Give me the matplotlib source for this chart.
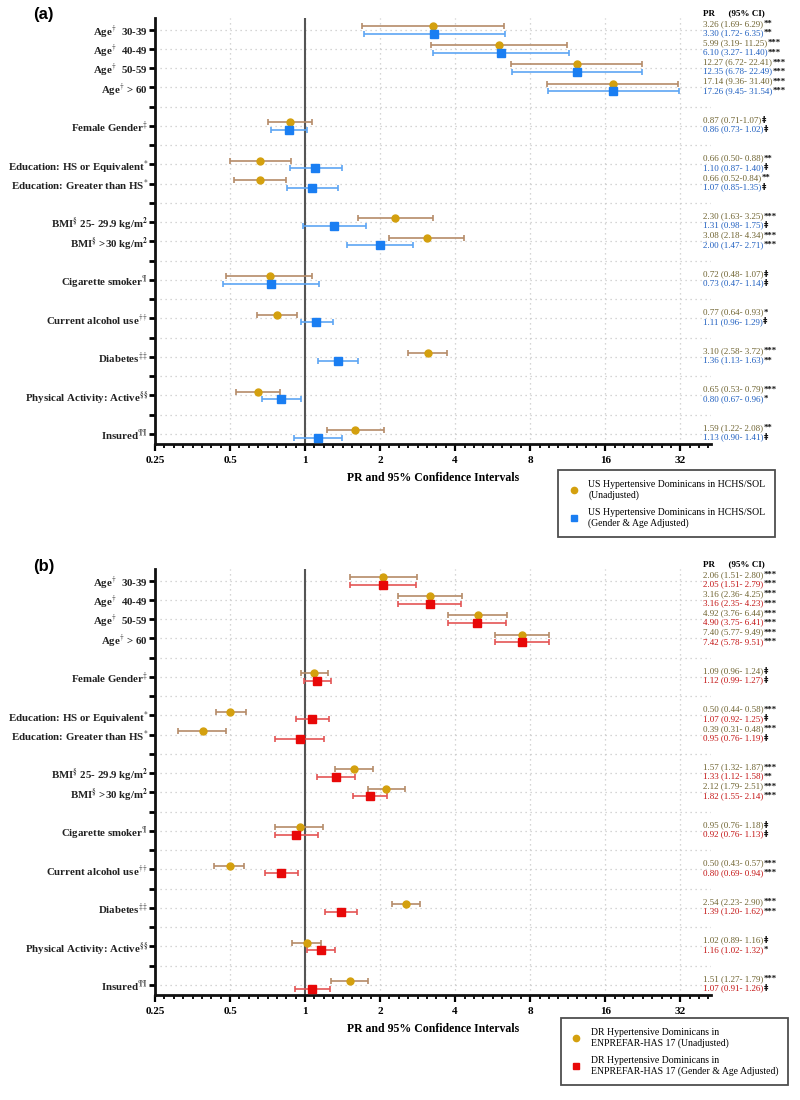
import numpy as np
import matplotlib
matplotlib.use("Agg")
import matplotlib.pyplot as plt
from matplotlib.lines import Line2D
from matplotlib.ticker import FixedLocator, FixedFormatter, NullFormatter

plt.rcParams['font.family'] = ['Liberation Serif', 'DejaVu Serif']
plt.rcParams['mathtext.fontset'] = 'stix'

# row labels (blank strings are the spacer rows)
row_labels = [r"Age$^{\dagger}$  30-39", r"Age$^{\dagger}$  40-49", r"Age$^{\dagger}$  50-59",
              r"Age$^{\dagger}$ > 60", "", r"Female Gender$^{\ddagger}$", "",
              r"Education: HS or Equivalent$^{*}$", r"Education: Greater than HS$^{*}$", "",
              r"BMI$^{\S}$ 25- 29.9 kg/m$^{\mathbf{2}}$", r"BMI$^{\S}$ >30 kg/m$^{\mathbf{2}}$", "",
              r"Cigarette smoker$^{\P}$", "", r"Current alcohol use$^{\dagger\dagger}$", "",
              r"Diabetes$^{\ddagger\ddagger}$", "", r"Physical Activity: Active$^{\S\S}$", "",
              r"Insured$^{\P\P}$"]
item_rows = [0, 1, 2, 3, 5, 7, 8, 10, 11, 13, 15, 17, 19, 21]

# (a) US Hypertensive Dominicans in HCHS/SOL
a_unadj_pr = [3.26, 5.99, 12.27, 17.14, 0.87, 0.66, 0.66, 2.30, 3.08, 0.72, 0.77, 3.10, 0.65, 1.59]
a_unadj_lo = [1.69, 3.19, 6.72, 9.36, 0.71, 0.50, 0.52, 1.63, 2.18, 0.48, 0.64, 2.58, 0.53, 1.22]
a_unadj_hi = [6.29, 11.25, 22.41, 31.40, 1.07, 0.88, 0.84, 3.25, 4.34, 1.07, 0.93, 3.72, 0.79, 2.08]
a_unadj_sig = ['**', '***', '***', '***', '‡', '**', '**', '***', '***', '‡', '*', '***', '***', '**']
a_adj_pr = [3.30, 6.10, 12.35, 17.26, 0.86, 1.10, 1.07, 1.31, 2.00, 0.73, 1.11, 1.36, 0.80, 1.13]
a_adj_lo = [1.72, 3.27, 6.78, 9.45, 0.73, 0.87, 0.85, 0.98, 1.47, 0.47, 0.96, 1.13, 0.67, 0.90]
a_adj_hi = [6.35, 11.40, 22.49, 31.54, 1.02, 1.40, 1.35, 1.75, 2.71, 1.14, 1.29, 1.63, 0.96, 1.41]
a_adj_sig = ['**', '***', '***', '***', '‡', '‡', '‡', '‡', '***', '‡', '‡', '**', '*', '‡']

# (b) DR Hypertensive Dominicans in ENPREFAR-HAS 17
b_unadj_pr = [2.06, 3.16, 4.92, 7.40, 1.09, 0.50, 0.39, 1.57, 2.12, 0.95, 0.50, 2.54, 1.02, 1.51]
b_unadj_lo = [1.51, 2.36, 3.76, 5.77, 0.96, 0.44, 0.31, 1.32, 1.79, 0.76, 0.43, 2.23, 0.89, 1.27]
b_unadj_hi = [2.80, 4.25, 6.44, 9.49, 1.24, 0.58, 0.48, 1.87, 2.51, 1.18, 0.57, 2.90, 1.16, 1.79]
b_unadj_sig = ['***', '***', '***', '***', '‡', '***', '***', '***', '***', '‡', '***', '***', '‡', '***']
b_adj_pr = [2.05, 3.16, 4.90, 7.42, 1.12, 1.07, 0.95, 1.33, 1.82, 0.92, 0.80, 1.39, 1.16, 1.07]
b_adj_lo = [1.51, 2.35, 3.75, 5.78, 0.99, 0.92, 0.76, 1.12, 1.55, 0.76, 0.69, 1.20, 1.02, 0.91]
b_adj_hi = [2.79, 4.23, 6.41, 9.51, 1.27, 1.25, 1.19, 1.58, 2.14, 1.13, 0.94, 1.62, 1.32, 1.26]
b_adj_sig = ['***', '***', '***', '***', '‡', '‡', '‡', '**', '***', '‡', '***', '***', '*', '‡']

# CI text written without the space after the dash in the source
a_unadj_nospace = [4, 6]
a_adj_nospace = [6]

major_ticks = [0.25, 0.5, 1, 2, 4, 8, 16, 32]
major_labels = ['0.25', '0.5', '1', '2', '4', '8', '16', '32']

GOLD = '#D4A00E'
TAN = '#B58B68'
OLIVE = '#6F6330'


def ci_text(pr, lo, hi, nospace):
    sep = '-' if nospace else '- '
    return f"{pr:.2f} ({lo:.2f}{sep}{hi:.2f})"


def draw_panel(ax, unadj, adj, adj_marker_col, adj_bar_col, adj_text_col, nospace_u, nospace_a,
               leg_labels, leg_anchor):
    y = np.array(item_rows, dtype=float)
    xmax = 42.5
    ax.set_xscale('log', base=2)
    ax.set_xlim(0.25, xmax)
    ax.set_ylim(21.52, -0.61)

    ax.xaxis.set_major_locator(FixedLocator(major_ticks))
    ax.xaxis.set_major_formatter(FixedFormatter(major_labels))
    minors = [0.25 * 2 ** (k / 8) for k in range(1, 60) if 0.25 * 2 ** (k / 8) < xmax and k % 8]
    ax.xaxis.set_minor_locator(FixedLocator(minors))
    ax.xaxis.set_minor_formatter(NullFormatter())
    ax.set_yticks(range(len(row_labels)))
    ax.set_yticklabels(row_labels, fontweight='bold', fontsize=7.8, color='#222222')
    for t in ax.get_xticklabels():
        t.set_fontweight('bold')
        t.set_fontsize(8)
    ax.tick_params(axis='y', length=4, width=2, pad=1)
    ax.tick_params(axis='x', which='major', length=5, width=1.6, pad=4)
    ax.tick_params(axis='x', which='minor', length=3, width=1.3)

    for s in ['top', 'right']:
        ax.spines[s].set_visible(False)
    for s in ['left', 'bottom']:
        ax.spines[s].set_linewidth(2)
        ax.spines[s].set_color('#111111')

    ax.grid(True, which='major', axis='both', ls=(0, (1, 3)), color='#c8c8c8', lw=0.9)
    ax.set_axisbelow(True)
    ax.axvline(1, color='#555555', lw=1.5, zorder=2)

    pr, lo, hi, sig = [np.array(v) if i < 3 else v for i, v in enumerate(unadj)]
    ax.errorbar(pr, y - 0.2, xerr=[pr - lo, hi - pr], fmt='none', ecolor=TAN,
                elinewidth=1.2, capsize=2.5, capthick=1.2, zorder=3)
    ax.plot(pr, y - 0.2, 'o', color=GOLD, ms=5, zorder=4)
    pr2, lo2, hi2, sig2 = [np.array(v) if i < 3 else v for i, v in enumerate(adj)]
    ax.errorbar(pr2, y + 0.2, xerr=[pr2 - lo2, hi2 - pr2], fmt='none', ecolor=adj_bar_col,
                elinewidth=1.2, capsize=2.5, capthick=1.2, zorder=3)
    ax.plot(pr2, y + 0.2, 's', color=adj_marker_col, ms=5.5, zorder=4)

    ax.set_xlabel('PR and 95% Confidence Intervals', fontweight='bold', fontsize=8.5, labelpad=5)

    tr = ax.get_yaxis_transform()
    xt = 0.986
    ax.text(xt, -0.87, 'PR      (95% CI)', transform=tr, fontsize=6.5, fontweight='bold',
            va='center', ha='left')
    for i in range(len(y)):
        for (p, l, h, s, col, dy, ns) in [(pr[i], lo[i], hi[i], sig[i], OLIVE, -0.3, i in nospace_u),
                                          (pr2[i], lo2[i], hi2[i], sig2[i], adj_text_col, 0.18, i in nospace_a)]:
            t = ax.text(xt, y[i] + dy, ci_text(p, l, h, ns), transform=tr, fontsize=6.5,
                        color=col, va='center', ha='left', clip_on=False)
            ax.annotate(s, xy=(1, 0.5), xycoords=t, va='center', ha='left', fontsize=6.3,
                        fontweight='bold', color='#111111',
                        family=['DejaVu Sans'] if s == '‡' else ['Liberation Serif'])

    handles = [Line2D([], [], ls='none', marker='o', color=GOLD, ms=4.5),
               Line2D([], [], ls='none', marker='s', color=adj_marker_col, ms=4.5)]
    leg = ax.figure.legend(handles, leg_labels, loc='upper right', bbox_to_anchor=leg_anchor,
                           bbox_transform=ax.figure.transFigure, fontsize=7, frameon=True,
                           fancybox=False, edgecolor='#222222', borderpad=1.0, labelspacing=0.8,
                           handlelength=1.2, handletextpad=0.9, borderaxespad=0)
    leg.get_frame().set_linewidth(1.3)


fig = plt.figure(figsize=(8, 11), dpi=100)
ax_a = fig.add_axes([0.19375, 0.5964, 0.695, 0.3873])
ax_b = fig.add_axes([0.19375, 0.0955, 0.695, 0.3873])

draw_panel(ax_a, (a_unadj_pr, a_unadj_lo, a_unadj_hi, a_unadj_sig),
           (a_adj_pr, a_adj_lo, a_adj_hi, a_adj_sig),
           '#1A7EF2', '#5DA6F4', '#1F5FC0', a_unadj_nospace, a_adj_nospace,
           ['US Hypertensive Dominicans in HCHS/SOL\n(Unadjusted)',
            'US Hypertensive Dominicans in HCHS/SOL\n(Gender & Age Adjusted)'],
           (775 / 800, 1 - 470 / 1100))
draw_panel(ax_b, (b_unadj_pr, b_unadj_lo, b_unadj_hi, b_unadj_sig),
           (b_adj_pr, b_adj_lo, b_adj_hi, b_adj_sig),
           '#E80808', '#E45555', '#C41414', [], [],
           ['DR Hypertensive Dominicans in\nENPREFAR-HAS 17 (Unadjusted)',
            'DR Hypertensive Dominicans in\nENPREFAR-HAS 17 (Gender & Age Adjusted)'],
           (788 / 800, 1 - 1018 / 1100))

fig.text(33 / 800, 1 - 15 / 1100, '(a)', family='Liberation Sans', fontweight='bold',
         fontsize=12, va='center', ha='left')
fig.text(33 / 800, 1 - 566 / 1100, '(b)', family='Liberation Sans', fontweight='bold',
         fontsize=12, va='center', ha='left')

fig.savefig('out.png', dpi=100)
